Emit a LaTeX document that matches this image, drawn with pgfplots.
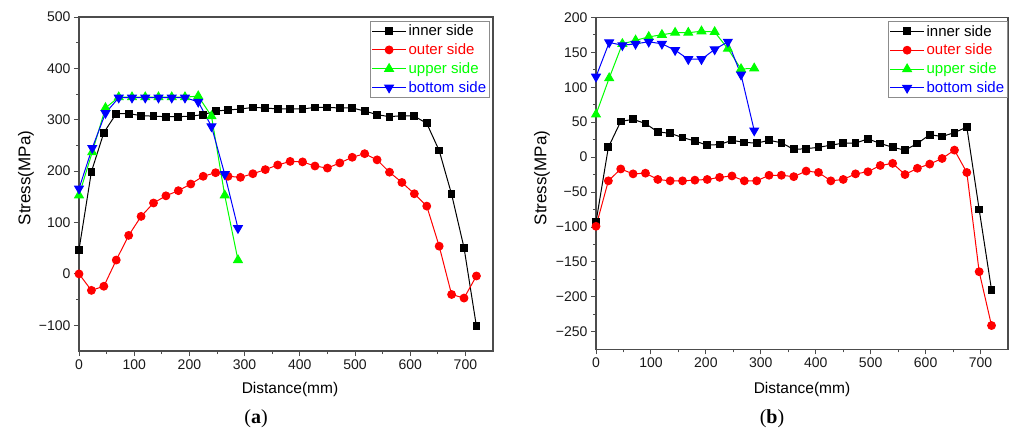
\documentclass[border=0pt]{standalone}
\usepackage{fontspec}
\setmainfont{Liberation Sans}
\newfontfamily\capfont{Liberation Serif}
\usepackage{pgfplots}
\pgfplotsset{compat=1.18}

\definecolor{ogreen}{RGB}{0,255,0}
\definecolor{ored}{RGB}{255,0,0}
\definecolor{oblue}{RGB}{0,0,255}

\pgfplotsset{
  panel/.style={
    scale only axis,
    axis line style={black!70, line width=1.1pt},
    tick align=outside,
    xtick pos=left, ytick pos=left,
    major tick length=5pt, minor tick length=3pt,
    every tick/.style={black!70, line width=0.9pt},
    xmin=0, xmax=750,
    xtick={0,100,...,700}, minor x tick num=1, minor y tick num=1,
    ticklabel style={font=\fontsize{14}{14}\selectfont, text=black!90},
    /pgf/number format/assume math mode=true,
    legend style={font=\fontsize{15}{16}\selectfont, draw=black!45,
      line width=0.7pt, inner sep=1.5pt, row sep=2.5pt,
      cells={anchor=west}},
    legend image code/.code={%
      \draw[mark repeat=2,mark phase=2] plot coordinates {(0pt,0pt) (17pt,0pt) (34pt,0pt)};},
  },
  inner/.style={black, line width=1pt, mark=square*, mark size=3.4pt},
  outer/.style={ored, line width=1pt, mark=*, mark size=3.9pt},
  upper/.style={ogreen, line width=1pt, mark=triangle*, mark size=5pt},
  bottom/.style={oblue, line width=1pt, mark=triangle*, mark size=5pt, mark options={rotate=180}},
}

\begin{document}
\begin{tikzpicture}[x=1pt,y=1pt]
\useasboundingbox (0,0) rectangle (1011,439);

% ---- panel (a)
\begin{axis}[panel, at={(79pt,88pt)}, anchor=south west,
  width=414pt, height=334pt,
  ymin=-150, ymax=500,
  ytick={-100,0,100,200,300,400,500},
  yticklabels={−100,0,100,200,300,400,500},
  legend style={at={(1,1)}, anchor=north east, xshift=-3pt, yshift=-4pt},
]
\addplot[inner] coordinates {
 (0,47)(22.5,199)(45,275)(67.5,312)(90,312)(112.5,308)(135,307)(157.5,306)(180,306)
 (202.5,307)(225,310)(247.5,317)(270,319)(292.5,321)(315,324)(337.5,323)(360,321)
 (382.5,321)(405,321)(427.5,324)(450,324)(472.5,323)(495,323)(517.5,317)(540,310)
 (562.5,306)(585,308)(607.5,307)(630,293)(652.5,240)(675,155)(697.5,51)(720,-102)};
\addplot[outer] coordinates {
 (0,0)(22.5,-32)(45,-24)(67.5,27)(90,75)(112.5,112)(135,138)(157.5,152)(180,162)
 (202.5,175)(225,190)(247.5,197)(270,190)(292.5,188)(315,195)(337.5,203)(360,212)
 (382.5,219)(405,218)(427.5,210)(450,206)(472.5,216)(495,227)(517.5,234)(540,222)
 (562.5,198)(585,178)(607.5,156)(630,132)(652.5,54)(675,-40)(697.5,-47)(720,-4)};
\addplot[upper] coordinates {
 (0,153)(24,237)(48,323)(72,344)(96,344)(120,344)(144,344)(168,344)(192,344)
 (216,346)(240,307)(264,153)(288,27)};
\addplot[bottom] coordinates {
 (0,166)(24,245)(48,313)(72,343)(96,343)(120,343)(144,343)(168,343)(192,343)
 (216,335)(240,287)(264,194)(288,89)};
\legend{\textcolor{black}{inner side},\textcolor{ored}{outer side},\textcolor{ogreen}{upper side},\textcolor{oblue}{bottom side}}
\end{axis}

% ---- panel (b)
\begin{axis}[panel, at={(596pt,89.7pt)}, anchor=south west,
  width=412pt, height=332pt,
  ymin=-275, ymax=200,
  ytick={-250,-200,-150,-100,-50,0,50,100,150,200},
  yticklabels={−250,−200,−150,−100,−50,0,50,100,150,200},
  legend style={at={(1,1)}, anchor=north east, xshift=0pt, yshift=-4pt},
]
\addplot[inner] coordinates {
 (0,-93)(22.5,14)(45,51)(67.5,54)(90,48)(112.5,36)(135,34)(157.5,28)(180,23)
 (202.5,17)(225,18)(247.5,24)(270,21)(292.5,20)(315,24)(337.5,20.5)(360,11)
 (382.5,12)(405,14)(427.5,17)(450,20)(472.5,20)(495,26)(517.5,19.5)(540,14)
 (562.5,10)(585,19.5)(607.5,32)(630,29.5)(652.5,35)(675,43)(697.5,-75)(720,-190)};
\addplot[outer] coordinates {
 (0,-99)(22.5,-34)(45,-17)(67.5,-24)(90,-23)(112.5,-32)(135,-34)(157.5,-34)(180,-33)
 (202.5,-32)(225,-29)(247.5,-27)(270,-34)(292.5,-34)(315,-26)(337.5,-26)(360,-28)
 (382.5,-20)(405,-22)(427.5,-34)(450,-32)(472.5,-24)(495,-21)(517.5,-12)(540,-9)
 (562.5,-25)(585,-16)(607.5,-10)(630,-2)(652.5,10)(675,-22)(697.5,-164)(720,-241)};
\addplot[upper] coordinates {
 (0,61)(24,113)(48,162)(72,167)(96,172)(120,175)(144,178)(168,178)(192,180)
 (216,179)(240,155)(264,126)(288,127)};
\addplot[bottom] coordinates {
 (0,115)(24,164)(48,160)(72,162)(96,165)(120,162)(144,153)(168,140)(192,140)
 (216,154)(240,165)(264,118)(288,38)};
\legend{\textcolor{black}{inner side},\textcolor{ored}{outer side},\textcolor{ogreen}{upper side},\textcolor{oblue}{bottom side}}
\end{axis}

% ---- labels
\node[rotate=90, font=\fontsize{17}{17}\selectfont] at (26,261) {Stress(MPa)};
\node[rotate=90, font=\fontsize{17}{17}\selectfont] at (542,261) {Stress(MPa)};
\node[font=\fontsize{15.5}{15.5}\selectfont] at (290,50) {Distance(mm)};
\node[font=\fontsize{15.5}{15.5}\selectfont] at (802,50) {Distance(mm)};
\node[font=\capfont\fontsize{20}{20}\selectfont] at (256,20) {(\textbf{a})};
\node[font=\capfont\fontsize{20}{20}\selectfont] at (772,20) {(\textbf{b})};
\end{tikzpicture}
\end{document}
